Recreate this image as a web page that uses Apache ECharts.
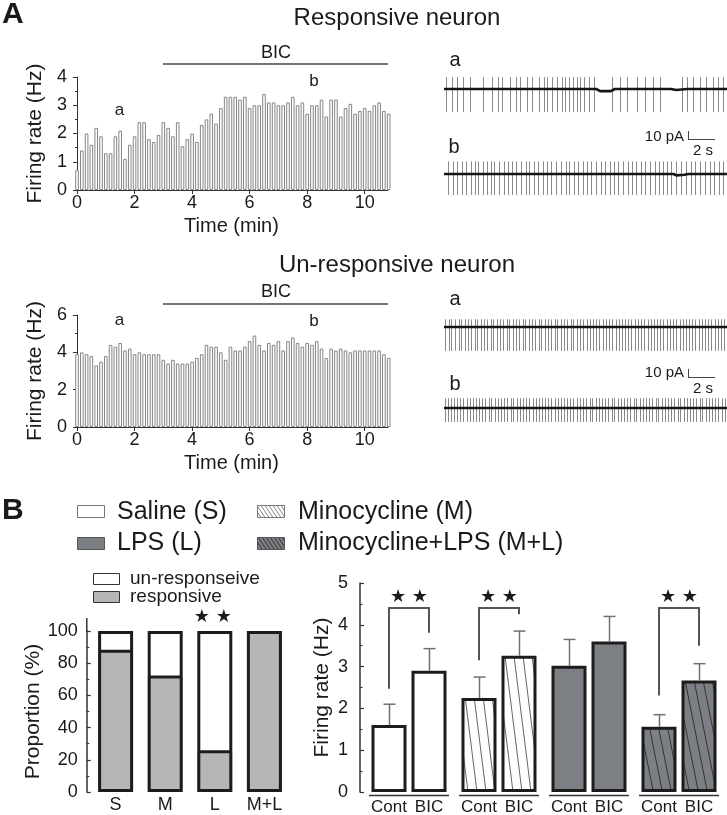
<!DOCTYPE html>
<html><head><meta charset="utf-8">
<script src="https://cdn.jsdelivr.net/npm/echarts@6.0.0/dist/echarts.min.js"></script>
<style>html,body{margin:0;padding:0;background:#fff}#c{width:727px;height:815px}</style>
</head><body><div id="c"></div>
<script>
// ---------------- DATA ----------------
const binWidthMin = 1 / 6; // 10-s bins
const respRate = [0.7,1.4,2.0,1.6,2.2,1.9,1.3,1.3,1.9,2.1,1.1,1.6,1.9,2.4,2.4,1.8,1.7,1.95,2.4,2.2,1.9,2.4,1.55,1.8,2.0,1.7,2.3,2.5,2.7,2.35,2.9,3.3,3.3,3.3,3.2,3.3,2.9,3.0,3.0,3.4,3.1,3.1,3.0,3.0,3.1,3.3,3.0,3.1,2.7,3.0,3.0,3.2,2.6,3.2,3.2,2.6,2.9,3.05,2.7,2.8,2.9,2.8,3.0,3.1,2.8,2.7];
const unrespRate = [3.9,4.0,3.9,3.8,3.3,3.5,3.8,4.4,4.3,4.5,4.1,4.2,3.9,4.0,3.9,3.9,3.9,3.9,3.6,3.4,3.6,3.4,3.4,3.4,3.5,3.7,3.9,4.4,4.3,4.3,4.0,3.6,4.3,4.1,4.1,4.3,4.6,4.9,4.4,4.1,4.5,4.4,4.6,4.1,4.6,4.8,4.5,4.3,4.5,4.4,4.6,4.2,3.7,4.2,4.1,4.2,4.1,4.0,4.1,4.1,4.1,4.1,4.1,4.1,3.9,3.7];
const timeTicks = [0, 2, 4, 6, 8, 10];

// spike times (s) of the example traces
const respASpikes = [0.15,0.58,0.95,1.45,1.95,2.95,3.58,4.08,4.33,4.95,5.4,5.7,6.2,6.58,7.08,7.5,7.7,8.08,8.45,8.83,9.08,9.4,9.65,9.95,10.2,10.5,10.83,11.2,12.58,13.15,13.7,14.45,15.08,15.65,16.15,17.83,18.2,18.65,19.15,19.65,20.15,20.5,20.9];
const respBSpikes = [0.28,0.65,0.98,1.33,1.65,2.03,2.33,2.58,2.9,3.23,3.53,3.78,4.15,4.53,4.78,5.08,5.4,5.78,6.15,6.4,6.73,7.03,7.4,7.73,8.03,8.4,8.78,9.15,9.4,9.73,10.03,10.4,10.73,11.03,11.4,11.73,12.03,12.4,12.73,13.03,13.4,13.78,14.08,14.4,14.73,15.03,15.4,15.78,16.08,16.4,16.73,17.03,17.4,17.78,18.15,18.48,18.78,19.15,19.53,19.9,20.23,20.58,20.9];
const unrespASpikes = [0.1,0.35,0.55,0.8,1.1,1.3,1.55,1.8,2.0,2.3,2.5,2.75,3.0,3.2,3.5,3.7,3.95,4.2,4.4,4.7,4.9,5.15,5.4,5.6,5.9,6.1,6.35,6.6,6.8,7.1,7.3,7.55,7.8,8.0,8.3,8.5,8.75,9.0,9.25,9.5,9.7,9.95,10.2,10.45,10.7,10.9,11.15,11.4,11.6,11.9,12.1,12.35,12.6,12.85,13.1,13.3,13.55,13.8,14.0,14.3,14.5,14.75,15.0,15.25,15.5,15.7,15.95,16.2,16.4,16.7,16.9,17.15,17.4,17.65,17.9,18.1,18.35,18.6,18.8,19.1,19.3,19.55,19.8,20.0,20.3,20.5,20.75,21.0];
const unrespBSpikes = [0.05,0.3,0.5,0.75,1.0,1.2,1.45,1.7,1.95,2.15,2.4,2.65,2.85,3.1,3.35,3.55,3.8,4.05,4.3,4.5,4.75,5.0,5.2,5.45,5.7,5.95,6.15,6.4,6.65,6.9,7.1,7.35,7.6,7.8,8.05,8.3,8.55,8.75,9.0,9.25,9.45,9.7,9.95,10.2,10.4,10.65,10.9,11.1,11.35,11.6,11.85,12.05,12.3,12.55,12.75,13.0,13.25,13.5,13.7,13.95,14.2,14.4,14.65,14.9,15.15,15.35,15.6,15.85,16.05,16.3,16.55,16.8,17.0,17.25,17.5,17.7,17.95,18.2,18.45,18.65,18.9,19.15,19.35,19.6,19.85,20.1,20.3,20.55,20.8,21.05];
// baseline current (pA) of the traces
const respABase = [[0,0],[11.4,0],[11.7,-3],[12.5,-3],[12.8,0],[17,0],[17.4,-1.5],[18.2,0],[21.2,0]];
const respBBase = [[0,0],[17.2,0],[17.4,-2],[18,-1],[18.3,0],[21.2,0]];
const unrespABase = [[0,0],[21.2,0]];
const unrespBBase = [[0,0],[21.2,0]];
const spikeUp = [17, 18, 11, 14];     // pA
const spikeDown = [33, 30, 34, 20];   // pA

// Panel B
const propCats = ['S', 'M', 'L', 'M+L'];
const responsivePct = [87.5, 71.4, 25, 100];
const unresponsivePct = [12.5, 28.6, 75, 0];
const groups = ['Saline (S)', 'Minocycline (M)', 'LPS (L)', 'Minocycline+LPS (M+L)'];
const contMean = [1.6, 2.25, 3.02, 1.56];
const contSem = [0.5, 0.5, 0.63, 0.29];
const bicMean = [2.9, 3.26, 3.6, 2.67];
const bicSem = [0.53, 0.59, 0.6, 0.4];
const sigGroups = [0, 1, 3];
const sigLegLeft = [2.47, 3.15, 2.31];
const sigLegRight = [3.81, 4.25, 3.5];
const sigTop = 4.4;

// ---------------- STYLE HELPERS ----------------
const FONT = '"Liberation Sans", Arial, sans-serif';
const TXT = '#1a1a1a';
function hatch(bg, fg, w, h, lw) {
  const c = document.createElement('canvas'); c.width = w; c.height = h;
  const g = c.getContext('2d'); g.fillStyle = bg; g.fillRect(0, 0, w, h);
  g.strokeStyle = fg; g.lineWidth = lw;
  for (const dx of [-w, 0, w]) { g.beginPath(); g.moveTo(dx - w, -h); g.lineTo(dx + 2 * w, 2 * h); g.stroke(); }
  return c;
}
const LPS_GRAY = '#7c8084';
const RESP_GRAY = '#b5b6b8';
const minoHatch = hatch('#ffffff', '#555555', 9, 72, 0.9);
const mlHatch = hatch(LPS_GRAY, '#333333', 9, 45, 1);
const minoHatchLeg = hatch('#ffffff', '#666666', 4, 6, 0.8);
const mlHatchLeg = hatch(LPS_GRAY, '#2a2a2a', 4, 6, 0.9);
const groupFill = [
  '#ffffff',
  { image: minoHatch, repeat: 'repeat' },
  LPS_GRAY,
  { image: mlHatch, repeat: 'repeat' }
];

function T(text, x, y, size, o) {
  o = o || {};
  return { type: 'text', x: x, y: y, z: 20, style: { text: text, font: (o.bold ? 'bold ' : '') + size + 'px ' + (o.font || FONT), fill: TXT, align: o.align || 'center', verticalAlign: 'middle' } };
}
function L(x1, y1, x2, y2, w, c) {
  return { type: 'line', z: 20, shape: { x1: x1, y1: y1, x2: x2, y2: y2 }, style: { stroke: c || '#333', lineWidth: w || 1 } };
}
function R(x, y, w, h, fill, stroke) {
  return { type: 'rect', z: 20, shape: { x: x, y: y, width: w, height: h }, style: { fill: fill, stroke: stroke, lineWidth: 1 } };
}

// ---------------- AXES ----------------
function timeX(grid) {
  return {
    type: 'value', gridIndex: grid, min: -0.07, max: 10.81,
    axisLine: { show: true, onZero: false, lineStyle: { color: '#333', width: 1 } },
    axisTick: { show: true, length: 4, customValues: timeTicks, lineStyle: { color: '#333' } },
    axisLabel: { customValues: timeTicks, fontSize: 18, fontFamily: FONT, color: TXT, margin: 4 },
    splitLine: { show: false },
    name: 'Time (min)', nameLocation: 'middle', nameGap: 26,
    nameTextStyle: { fontSize: 20, fontFamily: FONT, color: TXT }
  };
}
function rateY(grid, max, interval) {
  return {
    type: 'value', gridIndex: grid, min: 0, max: max, interval: interval, offset: 0,
    axisLine: { show: true, lineStyle: { color: '#333', width: 1 } },
    axisTick: { show: true, length: 4, lineStyle: { color: '#333' } },
    minorTick: { show: true, splitNumber: 2, length: 2, lineStyle: { color: '#333' } },
    axisLabel: { fontSize: 18, fontFamily: FONT, color: TXT, margin: 8 },
    splitLine: { show: false },
    name: 'Firing rate (Hz)', nameLocation: 'middle', nameGap: 29,
    nameTextStyle: { fontSize: 21, fontFamily: FONT, color: TXT }
  };
}
function hiddenX(grid, max) { return { type: 'value', gridIndex: grid, min: 0, max: max, show: false }; }
function hiddenY(grid) { return { type: 'value', gridIndex: grid, min: -35, max: 25, show: false }; }

const grids = [
  { left: 75, top: 77, width: 313, height: 113 },     // 0 responsive rate
  { left: 75, top: 315, width: 313, height: 112 },    // 1 unresponsive rate
  { left: 444, top: 71.5, width: 283, height: 42 },   // 2 trace resp a
  { left: 444, top: 156.5, width: 283, height: 42 },  // 3 trace resp b
  { left: 444, top: 309.5, width: 283, height: 42 },  // 4 trace unresp a
  { left: 444, top: 390.5, width: 283, height: 42 },  // 5 trace unresp b
  { left: 90.8, top: 631, width: 198.4, height: 161 },// 6 proportion
  { left: 364, top: 583, width: 360, height: 209 }    // 7 firing rate
];

const xAxes = [
  timeX(0), timeX(1),
  hiddenX(2, 21.2), hiddenX(3, 21.2), hiddenX(4, 21.2), hiddenX(5, 21.2),
  { type: 'category', gridIndex: 6, data: propCats, axisLine: { show: false }, axisTick: { show: false },
    axisLabel: { fontSize: 18, fontFamily: FONT, color: TXT, margin: 4 } },
  { type: 'category', gridIndex: 7, data: groups, show: false }
];
const yAxes = [
  rateY(0, 4, 1), rateY(1, 6, 2),
  hiddenY(2), hiddenY(3), hiddenY(4), hiddenY(5),
  { type: 'value', gridIndex: 6, min: 0, max: 100, interval: 20, offset: 4,
    axisLine: { show: true, lineStyle: { color: '#333', width: 1.5 } },
    axisTick: { show: true, inside: true, length: 4, lineStyle: { color: '#333', width: 1.2 } },
    minorTick: { show: true, splitNumber: 2, length: 2.5, lineStyle: { color: '#333' } },
    axisLabel: { fontSize: 18, fontFamily: FONT, color: TXT, margin: 9 }, splitLine: { show: false },
    name: 'Proportion (%)', nameLocation: 'middle', nameGap: 40,
    nameTextStyle: { fontSize: 21, fontFamily: FONT, color: TXT } },
  { type: 'value', gridIndex: 7, min: 0, max: 5, interval: 1, offset: 4,
    axisLine: { show: true, lineStyle: { color: '#333', width: 1.5 } },
    axisTick: { show: true, inside: true, length: 4, lineStyle: { color: '#333', width: 1.2 } },
    minorTick: { show: true, splitNumber: 2, length: 2.5, lineStyle: { color: '#333' } },
    axisLabel: { fontSize: 18, fontFamily: FONT, color: TXT, margin: 12 }, splitLine: { show: false },
    name: 'Firing rate (Hz)', nameLocation: 'middle', nameGap: 27,
    nameTextStyle: { fontSize: 21, fontFamily: FONT, color: TXT } }
];

// ---------------- SERIES ----------------
const series = [];
function rateBars(rates, idx) {
  series.push({ type: 'bar', xAxisIndex: idx, yAxisIndex: idx, barWidth: 3.6,
    data: rates.map((v, i) => [i * binWidthMin, v]),
    itemStyle: { color: '#ffffff', borderColor: '#858585', borderWidth: 1 }, silent: true });
}
rateBars(respRate, 0);
rateBars(unrespRate, 1);

const spikeSets = [respASpikes, respBSpikes, unrespASpikes, unrespBSpikes];
const baseSets = [respABase, respBBase, unrespABase, unrespBBase];
spikeSets.forEach((sp, k) => {
  const up = spikeUp[k], down = spikeDown[k];
  series.push({ type: 'custom', xAxisIndex: 2 + k, yAxisIndex: 2 + k, clip: false,
    data: sp.map(t => [t]), encode: { x: 0 },
    renderItem: function (params, api) {
      const t = api.value(0);
      const a = api.coord([t, up]), b = api.coord([t, -down]);
      const x = Math.round(a[0]) + 0.5;
      return { type: 'line', shape: { x1: x, y1: a[1], x2: x, y2: b[1] }, style: { stroke: '#8a8a8a', lineWidth: 1 } };
    } });
  series.push({ type: 'line', xAxisIndex: 2 + k, yAxisIndex: 2 + k, data: baseSets[k], showSymbol: false,
    lineStyle: { color: '#151515', width: 2.6 }, z: 5 });
});

// proportion stacked bars (fills), frames drawn by a custom series
series.push({ type: 'bar', name: 'responsive', xAxisIndex: 6, yAxisIndex: 6, stack: 'p', barWidth: 35,
  data: responsivePct, itemStyle: { color: RESP_GRAY } });
series.push({ type: 'bar', name: 'un-responseive', xAxisIndex: 6, yAxisIndex: 6, stack: 'p', barWidth: 35,
  data: unresponsivePct, itemStyle: { color: '#ffffff' } });
series.push({ type: 'custom', xAxisIndex: 6, yAxisIndex: 6, clip: false, z: 4,
  data: responsivePct.map((r, i) => [i, r, unresponsivePct[i]]), encode: { x: 0, y: 1 },
  renderItem: function (params, api) {
    const i = api.value(0), r = api.value(1), u = api.value(2);
    const p0 = api.coord([i, 0]), pt = api.coord([i, r + u]), pr = api.coord([i, r]);
    const x0 = p0[0] - 17.5 + 1.5, x1 = p0[0] + 17.5 - 1.5;
    const kids = [
      { type: 'rect', shape: { x: x0, y: pt[1] + 1.5, width: x1 - x0, height: p0[1] - pt[1] - 3 }, style: { fill: null, stroke: '#1c1c1c', lineWidth: 3 } }
    ];
    if (u > 0 && r > 0) kids.push({ type: 'line', shape: { x1: x0, y1: pr[1], x2: x1, y2: pr[1] }, style: { stroke: '#1c1c1c', lineWidth: 3 } });
    return { type: 'group', children: kids };
  } });
series.push({ type: 'custom', xAxisIndex: 6, yAxisIndex: 6, clip: false, data: [[2, 108.7]], encode: { x: 0, y: 1 },
  renderItem: function (params, api) {
    const p = api.coord([api.value(0), api.value(1)]);
    return { type: 'text', x: p[0] - 2, y: p[1], style: { text: '\u2605 \u2605', font: '18px "DejaVu Sans"', fill: TXT, align: 'center', verticalAlign: 'middle' } };
  } });

// firing rate bars
function fireBar(name, means) {
  series.push({ type: 'bar', name: name, xAxisIndex: 7, yAxisIndex: 7, barWidth: 35, barGap: '14.3%',
    data: means.map((v, i) => ({ value: v, itemStyle: { color: groupFill[i], borderColor: '#1c1c1c', borderWidth: 3 } })),
    label: { show: true, position: 'bottom', distance: 7, formatter: name, fontSize: 17, fontFamily: FONT, color: TXT } });
}
fireBar('Cont', contMean);
fireBar('BIC', bicMean);
function errBars(means, sems, dx) {
  series.push({ type: 'custom', xAxisIndex: 7, yAxisIndex: 7, clip: false, z: 3,
    data: means.map((m, i) => [i, m, sems[i]]), encode: { x: 0, y: 1 },
    renderItem: function (params, api) {
      const c = api.value(0), m = api.value(1), s = api.value(2);
      const p0 = api.coord([c, m]), p1 = api.coord([c, m + s]);
      const x = Math.round(p0[0] + dx) + 0.5;
      return { type: 'group', children: [
        { type: 'line', shape: { x1: x, y1: p0[1], x2: x, y2: p1[1] }, style: { stroke: '#707070', lineWidth: 1.5 } },
        { type: 'line', shape: { x1: x - 6, y1: p1[1], x2: x + 6, y2: p1[1] }, style: { stroke: '#707070', lineWidth: 1.5 } }
      ] };
    } });
}
errBars(contMean, contSem, -20);
errBars(bicMean, bicSem, 20);
series.push({ type: 'custom', xAxisIndex: 7, yAxisIndex: 7, clip: false,
  data: sigGroups.map((g, i) => [g, sigLegLeft[i], sigLegRight[i]]), encode: { x: 0, y: 1 },
  renderItem: function (params, api) {
    const g = api.value(0);
    const c = api.coord([g, sigTop]);
    const yl = api.coord([g, api.value(1)])[1], yr = api.coord([g, api.value(2)])[1];
    const ys = api.coord([g, 4.66])[1];
    const xl = c[0] - 20, xr = c[0] + 20;
    return { type: 'group', children: [
      { type: 'polyline', shape: { points: [[xl, yl], [xl, c[1]], [xr, c[1]], [xr, yr]] }, style: { stroke: '#555', lineWidth: 2, fill: null } },
      { type: 'text', x: c[0], y: ys, style: { text: '\u2605 \u2605', font: '18px "DejaVu Sans"', fill: TXT, align: 'center', verticalAlign: 'middle' } }
    ] };
  } });
series.push({ type: 'custom', xAxisIndex: 7, yAxisIndex: 7, clip: false,
  data: groups.map((g, i) => [i, 0]), encode: { x: 0, y: 1 },
  renderItem: function (params, api) {
    const p = api.coord([api.value(0), 0]);
    return { type: 'line', shape: { x1: p[0] - 40, y1: p[1] + 3.5, x2: p[0] + 40, y2: p[1] + 3.5 }, style: { stroke: '#333', lineWidth: 1.5 } };
  } });

// ---------------- GRAPHICS (annotations) ----------------
const graphic = [
  T('A', 2, 15, 30, { bold: true, align: 'left' }),
  T('Responsive neuron', 397, 18, 24),
  T('Un-responsive neuron', 397, 265, 24),
  T('BIC', 276, 53, 18), L(163, 64, 388, 64, 1.5, '#444'),
  T('BIC', 276, 292, 18), L(163, 304, 388, 304, 1.5, '#444'),
  T('a', 119.5, 110, 17), T('b', 314, 81, 17),
  T('a', 119.5, 320, 17), T('b', 314, 321, 17),
  T('a', 455, 60, 20), T('b', 454, 147, 20),
  T('a', 455, 299, 20), T('b', 455, 384, 20),
  T('10 pA', 684, 137, 15, { align: 'right' }), L(688.5, 131, 688.5, 139.5, 1, '#444'), L(688, 139.5, 715, 139.5, 1, '#444'), T('2 s', 703, 151, 15),
  T('10 pA', 684, 373, 15, { align: 'right' }), L(688.5, 369, 688.5, 377.5, 1, '#444'), L(688, 377.5, 715, 377.5, 1, '#444'), T('2 s', 703, 389, 15),
  T('B', 2, 511, 30, { bold: true, align: 'left' }),
  R(77.5, 505.5, 27, 12, '#ffffff', '#777'), T('Saline (S)', 117, 512, 25, { align: 'left' }),
  R(257.5, 505.5, 27, 12, { image: minoHatchLeg, repeat: 'repeat' }, '#777'), T('Minocycline (M)', 298, 512, 25, { align: 'left' }),
  R(77.5, 537.5, 27, 12, LPS_GRAY, '#555'), T('LPS (L)', 117, 543, 25, { align: 'left' }),
  R(257.5, 537.5, 27, 12, { image: mlHatchLeg, repeat: 'repeat' }, '#555'), T('Minocycline+LPS (M+L)', 298, 543, 25, { align: 'left' }),
  R(93.5, 573.5, 26, 11, '#ffffff', '#333'), T('un-responseive', 130, 579, 19, { align: 'left' }),
  R(93.5, 591.5, 26, 11, RESP_GRAY, '#333'), T('responsive', 130, 597, 19, { align: 'left' }),
  L(86.8, 618, 86.8, 632, 1.5, '#333')
];

const chart = echarts.init(document.getElementById('c'), null, { renderer: 'canvas' });
chart.setOption({
  animation: false,
  backgroundColor: '#ffffff',
  textStyle: { fontFamily: FONT },
  grid: grids, xAxis: xAxes, yAxis: yAxes, series: series, graphic: graphic
});
</script></body></html>
